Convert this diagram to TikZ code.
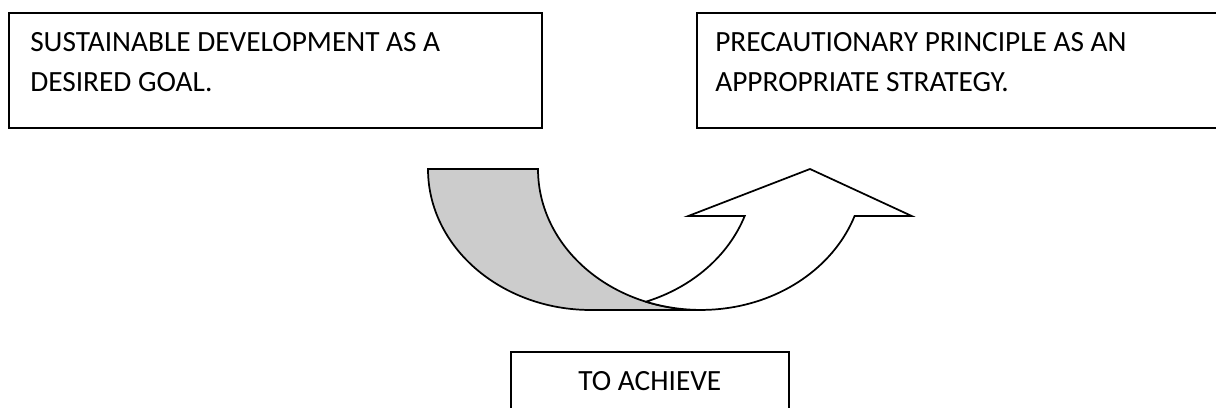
\documentclass[tikz,border=0pt]{standalone}
\usepackage{fontspec}
\setmainfont{Carlito}
\usetikzlibrary{positioning}

\begin{document}
\begin{tikzpicture} [
						x=0.75pt, y=0.75pt,
						box/.style={draw, line width=1.3pt, inner sep=0pt, anchor=north west},
						boxtext/.style={inner sep=0pt, align=left, font=\fontsize{22}{30}\selectfont},
						ribbon/.style={draw, line width=1.3pt, line join=miter}
					]

\useasboundingbox (0,0) rectangle (1216,407);
\clip (0,0) rectangle (1216,407);

\node (goalbox) [box, minimum width=399.75pt, minimum height=86.25pt] at (8,395) {};
\node (strategybox) [box, minimum width=408pt, minimum height=86.25pt] at (696,395) {};
\node (achievebox) [box, minimum width=208.5pt, minimum height=59.25pt] at (510,56) {};

\node (goal) [boxtext, below right=15.5pt and 16.5pt of goalbox.north west] {SUSTAINABLE DEVELOPMENT AS A\\DESIRED GOAL.};
\node (strategy) [boxtext, below right=15.5pt and 14.25pt of strategybox.north west] {PRECAUTIONARY PRINCIPLE AS AN\\APPROPRIATE STRATEGY.};
\node (achieve) [boxtext, below=15.5pt of achievebox.north] {TO ACHIEVE};

% back of the ribbon
\path[ribbon, fill=black!20]
	(428,238) arc[start angle=180, end angle=270, x radius=163, y radius=141]
	-- (701,97) arc[start angle=270, end angle=180, x radius=163, y radius=141]
	-- cycle;

% front of the ribbon with the head
\path[ribbon, fill=white]
	(646,105.3) arc[start angle=250.3, end angle=340.5, x radius=163, y radius=141]
	-- (911.7,191) -- (810,238) -- (688.3,191) -- (744.7,191)
	arc[start angle=340.5, end angle=289.7, x radius=163, y radius=141]
	-- cycle;

\end{tikzpicture}
\end{document}
